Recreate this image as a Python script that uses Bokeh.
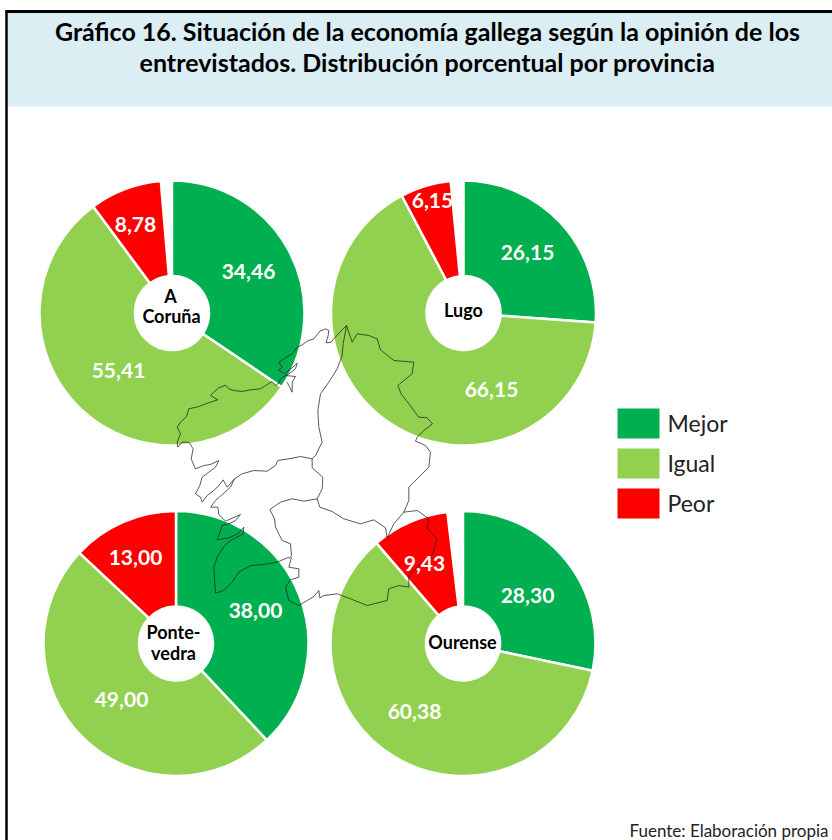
from math import pi
from bokeh.plotting import figure
from bokeh.models import Range1d, ColumnDataSource
from bokeh.core.properties import value
from bokeh.embed import file_html
from bokeh.resources import INLINE

W, H = 832, 840
FONT = "Lato"

# ---------- data ----------
title_lines = ["Gráfico 16. Situación de la economía gallega según la opinión de los",
               "entrevistados. Distribución porcentual por provincia"]
source_note = "Fuente: Elaboración propia"
categories = ["Mejor", "Igual", "Peor"]
colors = ["#00B050", "#92D050", "#FF0000"]
provinces = ["A Coruña", "Lugo", "Pontevedra", "Ourense"]
mejor = [34.46, 26.15, 38.00, 28.30]
igual = [55.41, 66.15, 49.00, 60.38]
peor = [8.78, 6.15, 13.00, 9.43]

# ---------- layout (page pixels) ----------
centers_x = [171.5, 463, 175.5, 462.5]
centers_y = [312.5, 312.5, 643, 643]
R_OUT, R_IN = 132.5, 37
label_px = {
    "Mejor": [(248, 271), (527, 252), (255, 610), (527, 595)],
    "Igual": [(118, 370), (491, 389), (121, 699), (414, 711)],
    "Peor": [(135, 224), (432, 200), (135, 557), (424, 563)],
}
center_labels = [("A", 170, 295), ("Coruña", 171, 315), ("Lugo", 463, 309),
                 ("Ponte-", 173, 631), ("vedra", 173, 652), ("Ourense", 462, 641)]

# map outline, zoom coordinates (3x, origin 160,310)
coast_n = [(558,45),(548,55),(520,85),(512,95),(497,97),(503,75),(505,60),(495,55),(478,62),(470,72),(460,85),(440,92),(425,103),(410,110),(395,130),(370,145),(355,155),(365,170),(355,178),(372,190),(395,172),(410,158),(405,175),(385,190),(360,205),(355,218),(345,225),(335,213),(315,225),(300,235),(270,238),(245,243),(220,240),(205,235),(195,224),(175,232),(160,245),(150,255),(172,268),(135,280),(115,288),(85,295),(78,318),(60,335),(50,350),(60,370),(50,395),(52,410),(65,395),(85,395),(98,415),(92,445),(105,475),(130,465),(150,462),(175,450),(165,470),(145,485),(125,500),(118,525),(105,550),(120,560),(125,575),(140,555),(160,540),(175,525),(188,508),(200,530),(222,505)]
coast_s = [(222,505),(210,530),(190,548),(165,570),(150,590),(172,590),(175,612),(195,632),(240,612),(225,630),(205,640),(185,645),(170,688),(205,682),(232,670),(250,650),(248,670),(210,690),(190,708),(170,740),(160,770),(163,820),(165,848),(190,840),(215,815),(235,785),(270,765),(310,762),(350,755),(385,740)]
bound_cp = [(222,505),(245,490),(280,480),(320,482),(345,465),(352,450),(385,445),(420,438),(455,445)]
bound_cl = [(558,45),(548,100),(545,135),(530,175),(505,215),(480,250),(472,300),(475,350),(485,395),(465,435),(455,445)]
bound_lp = [(455,445),(455,472),(487,500),(485,535),(470,565)]
bound_lo = [(470,565),(478,590),(515,603),(550,625),(600,640),(640,628),(675,652),(680,682),(700,640),(730,605)]
bound_po = [(470,565),(430,572),(395,565),(360,575),(328,597),(342,625),(345,650),(365,690),(390,700),(393,735),(385,745)]
east = [(558,45),(575,95),(590,70),(625,75),(650,85),(660,118),(700,150),(760,155),(755,190),(712,225),(722,250),(745,280),(775,320),(800,322),(816,340),(790,360),(770,380),(765,392),(795,405),(810,425),(805,470),(770,505),(745,530),(745,570),(730,605)]
south = [(730,605),(770,600),(805,625),(800,655),(830,685),(815,735),(775,765),(745,795),(745,830),(715,825),(685,835),(680,870),(620,885),(570,865),(530,850),(490,855),(478,862),(475,840),(460,858),(415,885),(385,870),(375,830),(390,808),(415,800),(415,775),(385,770),(393,740)]
ria = [(375,195),(405,198),(395,215),(395,245),(380,215)]
map_parts = [coast_n, coast_s, bound_cp, bound_cl, bound_lp, bound_lo, bound_po, east, south, ria]

# ---------- figure ----------
Y = lambda y: H - y
p = figure(width=W, height=H, x_range=Range1d(0, W), y_range=Range1d(0, H),
           output_backend="svg", toolbar_location=None, min_border=0,
           x_axis_type=None, y_axis_type=None)
p.grid.visible = False
p.outline_line_color = None
p.background_fill_color = "white"
p.border_fill_color = "white"

# frame and header band
p.quad(left=[6], right=[W + 5], top=[Y(11)], bottom=[Y(106)],
       fill_color="#DAEEF3", line_color=None)
p.line([6, 6], [Y(H + 5), Y(10)], line_color="black", line_width=2.5)
p.line([5, W + 5], [Y(11), Y(11)], line_color="black", line_width=3)

# pies
for i in range(4):
    vals = [mejor[i], igual[i], peor[i]]
    cum = 0.0
    starts, ends = [], []
    for v in vals:
        starts.append(pi / 2 - cum / 100 * 2 * pi)
        cum += v
        ends.append(pi / 2 - cum / 100 * 2 * pi)
    src = ColumnDataSource(dict(x=[centers_x[i]] * 3, y=[Y(centers_y[i])] * 3,
                                s=starts, e=ends, c=colors))
    p.annular_wedge(x="x", y="y", inner_radius=R_IN, outer_radius=R_OUT,
                    start_angle="s", end_angle="e", direction="clock",
                    fill_color="c", line_color="white", line_width=2.5, source=src)

# map outline over the pies
for part in map_parts:
    xs = [160 + a / 3 for a, b in part]
    ys = [Y(310 + b / 3) for a, b in part]
    p.line(xs, ys, line_color="#222222", line_width=1, line_alpha=0.75)

# value labels
series = {"Mejor": mejor, "Igual": igual, "Peor": peor}
for cat in categories:
    for i in range(4):
        x, y = label_px[cat][i]
        p.text([x], [Y(y)], text=[f"{series[cat][i]:.2f}".replace(".", ",")],
               text_color="white", text_font=value(FONT), text_font_style="bold",
               text_font_size="21px", text_align="center", text_baseline="middle")

# centre labels
for t, x, y in center_labels:
    p.text([x], [Y(y)], text=[t], text_color="black", text_font=value(FONT),
           text_font_style="bold", text_font_size="18px",
           text_align="center", text_baseline="middle")

# title
for t, y in zip(title_lines, [30, 61]):
    p.text([427], [Y(y)], text=[t], text_color="black", text_font=value(FONT),
           text_font_style="bold", text_font_size="25px",
           text_align="center", text_baseline="middle")

# legend
for c, cat, y0 in zip(colors, categories, [408, 448, 488]):
    p.quad(left=[617], right=[659], top=[Y(y0)], bottom=[Y(y0 + 30)],
           fill_color=c, line_color=None)
    p.text([667], [Y(y0 + 14)], text=[cat], text_color="#222222", text_font=value(FONT),
           text_font_size="23px", text_align="left", text_baseline="middle")

# source
p.text([828], [Y(830)], text=[source_note], text_color="#222222", text_font=value(FONT),
       text_font_size="17px", text_align="right", text_baseline="middle")

open("out.html", "w").write(file_html(p, INLINE))
